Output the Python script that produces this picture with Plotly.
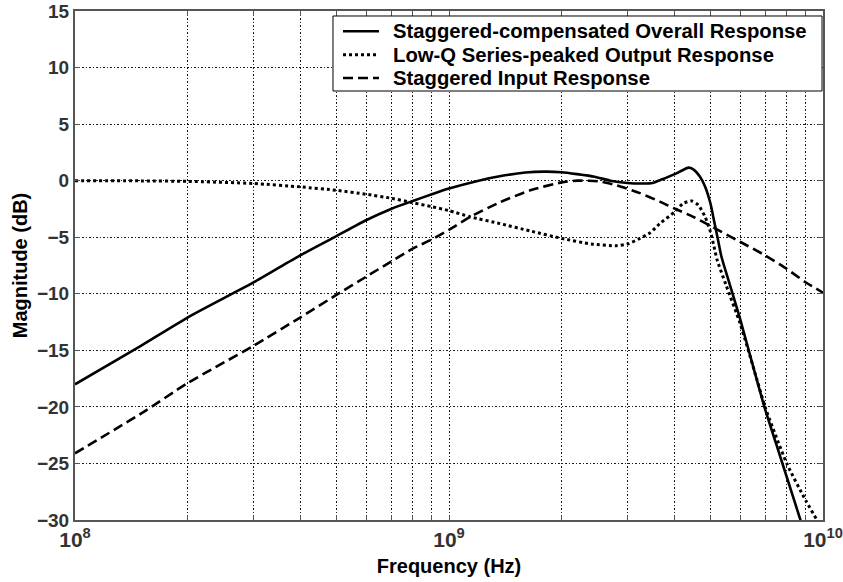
import plotly.graph_objects as go

# Frequency response curves (frequency in Hz, magnitude in dB)
overall_freq = [1e8, 1.5e8, 2e8, 3e8, 4e8, 5e8, 6e8, 7e8, 8e8, 9e8, 1e9, 1.2e9, 1.4e9,
                1.6e9, 1.8e9, 2e9, 2.2e9, 2.45e9, 2.7e9, 3e9, 3.3e9, 3.5e9, 3.7e9, 4e9,
                4.2e9, 4.37e9, 4.5e9, 4.69e9, 4.84e9, 5e9, 5.13e9, 5.24e9, 5.35e9, 5.6e9,
                6e9, 6.5e9, 7e9, 7.5e9, 8e9, 8.8e9, 9.2e9]
overall_db = [-18.0, -14.6, -12.1, -9.0, -6.6, -4.9, -3.5, -2.5, -1.8, -1.2, -0.7, 0.0, 0.45,
              0.72, 0.8, 0.75, 0.58, 0.35, 0.0, -0.2, -0.25, -0.2, 0.1, 0.56,
              0.9, 1.15, 1.0, 0.35, -0.53, -2.0, -3.77, -5.24, -6.7, -8.9,
              -12.2, -16.4, -20.2, -23.3, -26.2, -30.5, -32.6]

output_freq = [1e8, 1.5e8, 2e8, 3e8, 4e8, 5e8, 6e8, 7e8, 8e8, 9e8, 1e9, 1.14e9, 1.37e9,
               1.65e9, 2e9, 2.4e9, 2.8e9, 3e9, 3.24e9, 3.45e9, 3.66e9, 4e9, 4.23e9,
               4.46e9, 4.64e9, 4.84e9, 5e9, 5.11e9, 5.21e9, 5.5e9, 6e9, 6.66e9, 7e9,
               8e9, 9e9, 9.63e9, 1e10]
output_db = [0.0, -0.02, -0.06, -0.25, -0.55, -0.85, -1.2, -1.55, -1.95, -2.3, -2.65, -3.2, -3.8,
             -4.45, -5.1, -5.6, -5.75, -5.6, -5.1, -4.6, -3.8, -2.8, -2.0,
             -1.8, -2.15, -3.2, -4.5, -5.8, -7.0, -9.2, -12.6, -17.6, -20.0,
             -25.0, -28.3, -30.0, -31.0]

input_freq = [1e8, 1.5e8, 2e8, 3e8, 4e8, 5e8, 6e8, 7e8, 8e8, 9e8, 1e9, 1.14e9, 1.37e9,
              1.65e9, 2e9, 2.2e9, 2.5e9, 2.8e9, 3.24e9, 3.66e9, 4e9, 4.5e9, 5e9, 6e9,
              7e9, 8e9, 9e9, 1e10]
input_db = [-24.1, -20.6, -17.9, -14.6, -12.1, -10.1, -8.5, -7.15, -6.0, -5.2, -4.35, -3.2, -1.9,
            -0.85, -0.15, 0.0, -0.05, -0.4, -1.1, -1.85, -2.45, -3.2, -4.0, -5.4,
            -6.6, -7.8, -9.0, -9.9]

series_names = ["Staggered-compensated Overall Response",
                "Low-Q Series-peaked Output Response",
                "Staggered Input Response"]

# Axis ticks: decades labelled, 2..9 multiples carry grid lines only
x_tick_vals = [m * 10 ** e for e in (8, 9) for m in range(1, 10)] + [1e10]
x_tick_text = ["10<sup>8</sup>", "", "", "", "", "", "", "", "",
               "10<sup>9</sup>", "", "", "", "", "", "", "", "",
               "10<sup>10</sup>"]
y_tick_vals = [-30, -25, -20, -15, -10, -5, 0, 5, 10, 15]

FONT = "Liberation Sans, Arial, sans-serif"
TEXT = "#333333"
AXIS = "#555555"
GRID = "#1a1a1a"

line_styles = [
    dict(color="black", width=2.6),
    dict(color="black", width=3, dash="3px,3px"),
    dict(color="black", width=2.6, dash="10px,5px"),
]
curves = [(overall_freq, overall_db), (output_freq, output_db), (input_freq, input_db)]

fig = go.Figure()
for (fx, fy), name, style in zip(curves, series_names, line_styles):
    fig.add_trace(go.Scatter(
        x=fx, y=fy, mode="lines", name=name, showlegend=False,
        line=dict(**style, shape="spline", smoothing=0.6),
    ))

# Boxed key in the upper right of the axes
key_x0, key_x1, key_y0, key_y1 = 0.3449, 0.9987, 0.8428, 0.9902
row_y = [0.9601, 0.9142, 0.8684]
sample_x0, sample_x1, text_x = 0.3583, 0.4064, 0.4225

shapes = [dict(type="rect", xref="paper", yref="paper",
               x0=key_x0, x1=key_x1, y0=key_y0, y1=key_y1,
               line=dict(color="black", width=1), fillcolor="white", layer="above")]
annotations = []
for name, style, ry in zip(series_names, line_styles, row_y):
    shapes.append(dict(type="line", xref="paper", yref="paper",
                       x0=sample_x0, x1=sample_x1, y0=ry, y1=ry,
                       line=dict(color="black", width=style["width"],
                                 dash=style.get("dash", "solid")),
                       layer="above"))
    annotations.append(dict(xref="paper", yref="paper", x=text_x, y=ry,
                            xanchor="left", yanchor="middle", showarrow=False,
                            text=name,
                            font=dict(family=FONT, size=20.3, color="black",
                                      weight="bold")))

fig.update_layout(
    width=843, height=582,
    margin=dict(l=75, r=20, t=11, b=62),
    paper_bgcolor="white", plot_bgcolor="white",
    font=dict(family=FONT, size=19, color=TEXT),
    showlegend=False,
    shapes=shapes,
    annotations=annotations,
)

fig.update_xaxes(
    type="log", range=[8, 10], automargin=False,
    tickvals=x_tick_vals, ticktext=x_tick_text,
    tickfont=dict(family=FONT, size=21, color=TEXT, weight="bold"),
    ticks="inside", ticklen=5, tickcolor=AXIS,
    showline=True, linecolor=AXIS, linewidth=2, mirror="ticks",
    showgrid=True, gridcolor=GRID, gridwidth=1, griddash="1.5px,2px",
    zeroline=False,
    title=dict(text="Frequency (Hz)", standoff=9,
               font=dict(family=FONT, size=20, color="black", weight="bold")),
)
fig.update_yaxes(
    range=[-30, 15], tickvals=y_tick_vals, automargin=False,
    tickfont=dict(family=FONT, size=19, color=TEXT, weight="bold"),
    ticks="inside", ticklen=5, tickcolor=AXIS,
    showline=True, linecolor=AXIS, linewidth=2, mirror="ticks",
    showgrid=True, gridcolor=GRID, gridwidth=1, griddash="1.5px,2px",
    zeroline=False,
    title=dict(text="Magnitude (dB)", standoff=4,
               font=dict(family=FONT, size=20, color="black", weight="bold")),
)

fig.write_html("out.html")
